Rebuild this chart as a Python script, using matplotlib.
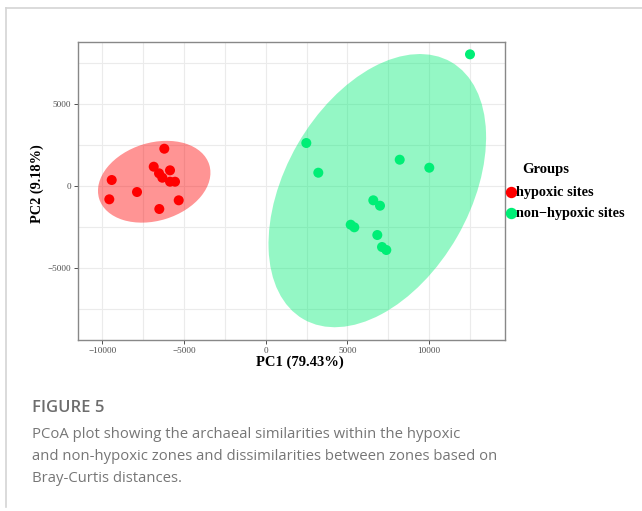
import numpy as np
import matplotlib
matplotlib.use('Agg')
import matplotlib.pyplot as plt
from matplotlib.patches import Ellipse
from matplotlib.lines import Line2D

# PCoA scores
hyp_pc1 = [-9425, -9572, -7877, -6206, -6854, -6530, -6328, -5857, -5857, -5551, -5324, -6512]
hyp_pc2 = [366, -811, -366, 2274, 1177, 774, 506, 957, 262, 262, -872, -1402]
non_pc1 = [12503, 2485, 3219, 8201, 10012, 6585, 6995, 5202, 5422, 6830, 7118, 7381]
non_pc2 = [8030, 2622, 811, 1604, 1116, -872, -1201, -2360, -2518, -2988, -3720, -3902]

# ellipse (width, height, angle) in data units, centred on the group mean
hyp_ell = (7050, 4750, 17)
non_ell = (18100, 11280, 60)

groups = ['hypoxic sites', 'non\u2212hypoxic sites']
red = '#FF0000'
green = '#00EE76'

fig = plt.figure(figsize=(6.42, 5.11), dpi=100)
W, H = 642, 511

# outer frame of the figure box
fig.add_artist(Line2D([6 / W, 6 / W], [1 - 8 / H, 1 - 507 / H], color='#d4d4d4', lw=1.2))
fig.add_artist(Line2D([6 / W, 1.0], [1 - 8 / H, 1 - 8 / H], color='#d4d4d4', lw=1.2))

ax = fig.add_axes([78.3 / W, 1 - 340 / H, (505 - 78.3) / W, (340 - 41.7) / H])

for xs, ys, ell, col in [(hyp_pc1, hyp_pc2, hyp_ell, red),
                         (non_pc1, non_pc2, non_ell, green)]:
    cx, cy = np.mean(xs), np.mean(ys)
    ax.add_patch(Ellipse((cx, cy), ell[0], ell[1], angle=ell[2], facecolor=col,
                         alpha=0.42, edgecolor='none', zorder=2))
    ax.scatter(xs, ys, s=52, color=col, edgecolor='none', zorder=3)

ax.set_xlim(-11470, 14645)
ax.set_ylim(-9390, 8800)
ax.set_xticks([-10000, -5000, 0, 5000, 10000])
ax.set_yticks([-5000, 0, 5000])
ax.set_xticks(np.arange(-7500, 14000, 5000), minor=True)
ax.set_yticks([-7500, -2500, 2500, 7500], minor=True)
ax.set_xticklabels(['\u221210000', '\u22125000', '0', '5000', '10000'])
ax.set_yticklabels(['\u22125000', '0', '5000'])
ax.grid(True, which='both', color='#ebebeb', lw=0.8, zorder=0)
ax.set_axisbelow(True)
ax.tick_params(which='major', length=3, width=0.6, color='#333333',
               labelsize=6.6, labelcolor='#4d4d4d', pad=2)
ax.tick_params(which='minor', length=0)
for lab in ax.get_xticklabels() + ax.get_yticklabels():
    lab.set_family('Liberation Serif')
for sp in ax.spines.values():
    sp.set_color('#888888')
    sp.set_linewidth(1.0)

ax.set_xlabel('PC1 (79.43%)', family='Liberation Serif', weight='bold', fontsize=10.5)
ax.xaxis.set_label_coords((300 - 78.3) / (505 - 78.3), -0.052)
ax.set_ylabel('PC2 (9.18%)', family='Liberation Serif', weight='bold', fontsize=10.3)
ax.yaxis.set_label_coords(-0.08, (340 - 184) / (340 - 41.7))

# legend, drawn by hand so the title sits indented as in ggplot
fig.text(522.5 / W, 1 - 170 / H, 'Groups', family='Liberation Serif', weight='bold',
         fontsize=10.5, va='center')
for i, (name, col) in enumerate(zip(groups, [red, green])):
    yy = 1 - (192.5 + 20.5 * i) / H
    fig.add_artist(Line2D([511 / W], [yy], marker='o', ls='', color=col, markersize=7.2))
    fig.text(516.5 / W, yy, name, family='Liberation Serif', weight='bold',
             fontsize=10.3, va='center')

# caption
fig.text(32 / W, 1 - 412 / H, 'FIGURE 5', family='Open Sans', weight='semibold',
         fontsize=12, color='#6d6d6d', va='baseline')
caption = ['PCoA plot showing the archaeal similarities within the hypoxic',
           'and non-hypoxic zones and dissimilarities between zones based on',
           'Bray-Curtis distances.']
for i, line in enumerate(caption):
    fig.text(32 / W, 1 - (438 + 22 * i) / H, line, family='Open Sans',
             fontsize=10.75, color='#767676', va='baseline')

fig.savefig('out.png', dpi=100)
